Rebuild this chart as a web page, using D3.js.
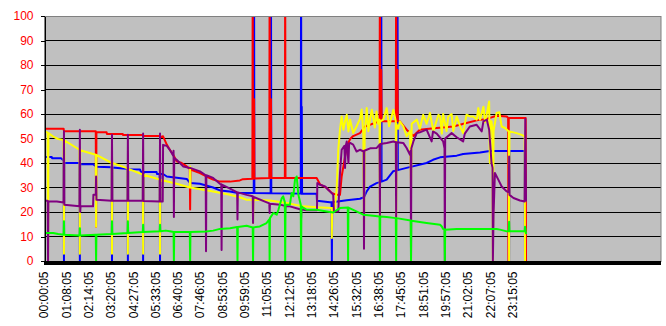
<!DOCTYPE html>
<html>
<head>
<meta charset="utf-8">
<script src="https://cdn.jsdelivr.net/npm/d3@7"></script>
<style>
  html, body { margin: 0; padding: 0; background: #fff; }
  svg { display: block; font-family: Arial, "Liberation Sans", sans-serif; }
</style>
</head>
<body>
<svg id="chart" width="666" height="326"></svg>
<script>
// category labels, one every 66 samples
const tickLabels = [
    '00:00:05', '01:08:05', '02:14:05', '03:20:05', '04:27:05', '05:33:05',
    '06:40:05', '07:46:05', '08:53:05', '09:59:05', '11:05:05', '12:12:05',
    '13:18:05', '14:26:05', '15:32:05', '16:38:05', '17:45:05', '18:51:05',
    '19:57:05', '21:02:05', '22:07:05', '23:15:05'
];

// [sample index, value]
const redSeries = [
    [0,54],[58,54],[59,53],[153,53],[154,14],[155,52.6],[185,52.6],[186,51.8],[233,51.8],[234,51.4],
    [292,51.4],[293,51],[342,51],[343,50.5],[352,50.9],[363,47.5],[372,45.4],[382,43.4],[392,40.7],
    [407,40],[422,38.6],[431,37.5],[432,21],[433,37.3],[461,35.9],[480,34.5],[500,33.2],[520,32.4],
    [550,32.4],[579,32.9],[588,33.4],[616,33.6],[617,120],[618,33.6],[620,33.6],[621,66],[622,33.7],[666,33.9],
    [667,120],[668,33.9],[670,33.9],[671,66],[672,33.9],[712,33.9],[713,120],[714,33.9],[806,33.9],[816,31.3],
    [836,29.8],[850,27.8],[865,27],[875,27],[880,34.5],[890,42.7],[895,46.8],[905,49.8],[914,51],
    [934,52.2],[949,54.9],[983,56.6],[992,57],[993,120],[994,57],[996,57],[997,78],[998,57],[1040,57],[1041,120],
    [1042,57],[1044,57],[1045,78],[1046,57],[1052,57],[1072,53.6],[1092,51],[1111,53.6],[1131,53.9],[1161,54.3],
    [1210,54.9],[1249,56.3],[1279,57.4],[1309,58],[1338,59.3],[1368,59],[1372,58.4],[1373,0],[1374,58.4],
    [1424,58.4],[1425,0]
];

const blueSeries = [
    [0,42.4],[23,42.4],[24,41.9],[51,41.9],[56,41.2],[58,41],[59,0],[60,40],[105,40],[106,0],[107,39.6],
    [146,39.5],[150,39],[156,38.5],[200,38.3],[201,0],[202,38.2],[234,37.8],[247,37.6],[248,0],[249,37.5],
    [284,37.3],[287,36.3],[292,36.3],[293,0],[294,36.3],[333,36.3],[334,35.5],[342,35.5],[343,0],[344,35.5],
    [352,35.5],[363,34.5],[422,33.5],[432,31.8],[461,31.5],[500,30],[520,28.8],[550,28.4],[570,27.8],
    [620,27.8],[621,120],[622,27.8],[670,27.7],[671,120],[672,27.7],[759,27.5],[760,120],[761,27.5],
    [762,63],[763,27.5],[806,27.5],[807,24.6],[845,24],[850,24],[851,0],[852,24],[895,24.8],[934,25.4],
    [946,26],[954,28.4],[964,30.4],[983,31.8],[996,32.3],[997,120],[998,32.4],[1013,33.2],[1032,36.6],
    [1044,37],[1045,120],[1046,37.1],[1072,38],[1131,40],[1150,41.3],[1171,42.3],[1220,43],[1239,43.7],
    [1289,44.3],[1318,44.9],[1374,44.9],[1375,0],[1376,44.9],[1421,44.9],[1422,0]
];

const yellowSeries = [
    [0,53],[11,52.4],[12,0],[13,52.2],[27,50.8],[42,49.8],[58,49.4],[59,3],[60,49.2],[105,45.4],[106,3],
    [107,45.2],[153,43.4],[154,14],[155,43.3],[200,40],[201,3],[202,40],[247,37.8],[248,3],[249,37.6],
    [292,35.3],[293,3],[294,35.2],[342,33.3],[343,3],[344,33.2],[392,31.5],[431,30],[432,38.6],[433,30],
    [441,29.8],[500,28.4],[550,27],[579,26],[599,25],[617,25],[618,15.5],[619,25],[668,24.7],[717,23.7],
    [766,22.3],[806,21.9],[850,21.6],[851,9.4],[852,21.6],[860,21.6],[865,29],[870,45.4],[875,53.6],
    [880,59],[885,53.6],[890,57],[895,59.7],[900,52.9],[905,57.7],[914,52.2],[924,54.9],[934,58],
    [939,61.8],[944,52],[946,12],[948,52],[954,62.4],[959,53],[964,58],[969,61.7],[978,54.5],[983,61],
    [988,56],[992,57.7],[993,12],[994,57],[1003,57.7],[1013,62.4],[1020,55],[1033,61.7],[1040,57],
    [1041,12],[1042,56],[1047,54],[1052,57],[1062,55],[1072,50.9],[1082,53],[1085,30],[1087,56],
    [1102,57.7],[1111,54],[1121,59.7],[1131,56],[1141,60.4],[1151,53],[1166,59.7],[1171,59],[1176,52],
    [1180,60],[1190,53],[1195,59],[1205,60],[1210,53],[1220,59],[1230,55],[1239,52.2],[1249,59.7],
    [1259,59],[1269,59],[1279,57.7],[1284,62.4],[1289,57.7],[1299,63],[1304,56.6],[1309,60],[1316,65.1],
    [1318,40],[1320,57],[1323,57],[1326,53],[1327,0],[1329,53],[1338,60.4],[1346,60.7],[1353,54.9],
    [1363,54.3],[1374,52.9],[1375,0],[1376,52.9],[1397,52.2],[1412,51.5],[1421,50.9],[1422,0]
];

const purpleSeries = [
    [3,24.6],[11,24.6],[12,0],[13,24.4],[38,24.3],[58,23.9],[59,53],[60,23],[105,22.3],[106,53.6],[107,20],
    [108,22.3],[145,22.3],[146,27],[153,27],[154,34.5],[155,25],[200,24.6],[201,51.5],[202,24.6],[247,24.6],
    [248,51.5],[249,24.6],[292,24.6],[293,52],[294,24.5],[342,24.3],[343,52],[344,24.3],[351,24.3],
    [352,47.4],[363,47],[372,45.4],[382,43],[383,45],[384,18],[385,42],[392,41.3],[412,38.6],[432,38],
    [461,36.6],[478,35],[479,4],[480,35],[500,33.9],[520,31.5],[524,31.3],[525,4.5],[526,31.2],[550,29.5],
    [571,28],[572,16.9],[573,28],[599,27],[617,26.4],[618,15.5],[619,26.2],[666,23.5],[667,19.6],[668,23.4],
    [698,23],[712,22.5],[713,20],[714,22.4],[727,22.3],[759,21],[760,17.6],[761,21],[777,20.7],[807,20.7],
    [808,31.8],[816,31.1],[831,30.4],[840,29.1],[850,27.8],[855,27],[857,20.2],[870,20.2],[875,35.9],
    [880,45.4],[888,47],[890,38],[892,47],[895,48.8],[900,40],[902,48],[905,48.2],[914,47.5],[924,44.7],
    [934,45.4],[945,44.7],[946,5],[947,45],[964,46],[983,46.1],[992,47.5],[993,18],[994,47.8],[1013,48.2],
    [1033,48.8],[1040,48.5],[1041,18],[1042,48.5],[1062,48.2],[1072,46.1],[1082,43.4],[1084,45],[1085,1],
    [1086,46],[1092,48.8],[1102,52.2],[1111,52.5],[1131,53.6],[1146,48.8],[1150,52.9],[1161,52],
    [1180,48.8],[1184,46],[1185,0],[1186,50],[1205,52.2],[1220,50.5],[1239,48.8],[1244,52],[1259,54.9],
    [1279,55.6],[1294,52.9],[1299,57],[1309,57.7],[1316,53.6],[1323,40],[1326,38],[1327,0],[1329,19],
    [1333,35.9],[1343,33.2],[1353,30.4],[1368,28.4],[1374,28],[1375,42.7],[1376,27],[1388,25.7],
    [1407,24.7],[1421,24.3],[1423,58],[1425,24.3]
];

const greenSeries = [
    [3,11.4],[27,11.4],[42,11],[58,10.7],[59,16.2],[60,10.7],[105,10.4],[106,13.4],[107,10.4],[153,10.7],
    [154,0],[155,10.7],[200,11],[201,16.2],[202,11],[247,11.4],[248,16.2],[249,11.4],[292,11.8],[293,14.8],
    [294,11.8],[342,12.1],[343,14.8],[344,12.1],[360,12.4],[372,12.1],[383,11.8],[384,0],[385,11.8],
    [431,11.8],[432,0],[433,11.8],[479,12],[500,12.4],[520,13.1],[550,13.4],[571,13.9],[572,0],[573,13.9],
    [599,14.4],[617,13.7],[618,0],[619,13.7],[638,14.1],[658,15.5],[666,17],[667,0],[668,17.5],[678,19.6],
    [688,18.9],[693,20.9],[703,25.7],[707,26.4],[712,24],[713,0],[714,23],[727,23],[732,27.8],[737,26.4],
    [742,33.2],[747,34.5],[752,27],[759,23],[760,0],[761,22.3],[766,21.8],[777,20.9],[806,20.9],[836,20.2],
    [855,19.8],[875,21.6],[898,21.8],[899,0],[900,21.8],[914,20.9],[944,18.9],[973,18.5],[992,18.2],
    [993,0],[994,18.2],[1013,18],[1040,17.5],[1041,0],[1042,17.5],[1084,16.5],[1085,0],[1086,16.4],
    [1131,15.5],[1171,14.8],[1176,14.1],[1180,13.1],[1184,13],[1185,0],[1186,12.8],[1220,13.1],[1338,13.1],
    [1348,12.8],[1368,12.1],[1374,12.1],[1375,16],[1376,12.1],[1421,12.1],[1422,14],[1425,11]
];

// draw order matters: later series sit on top
const seriesList = [
    { name: 'blue',   color: '#0000ff', values: blueSeries },
    { name: 'red',    color: '#ff0000', values: redSeries },
    { name: 'yellow', color: '#ffff00', values: yellowSeries },
    { name: 'purple', color: '#800080', values: purpleSeries },
    { name: 'green',  color: '#00ff00', values: greenSeries }
];

const sampleCount = 1824;
const tickStep = 66;
const plot = { left: 44, right: 661, top: 16, bottom: 261 };

const svg = d3.select('#chart');

const x = d3.scaleLinear().domain([0, sampleCount]).range([plot.left, plot.right]);
const y = d3.scaleLinear().domain([0, 100]).range([plot.bottom, plot.top]);

svg.append('clipPath')
    .attr('id', 'plotClip')
    .append('rect')
    .attr('x', plot.left)
    .attr('y', plot.top)
    .attr('width', plot.right - plot.left)
    .attr('height', plot.bottom - plot.top);

// plot background
svg.append('rect')
    .attr('x', plot.left)
    .attr('y', plot.top)
    .attr('width', plot.right - plot.left)
    .attr('height', plot.bottom - plot.top)
    .attr('fill', '#c0c0c0');

// gridlines
svg.append('g')
    .selectAll('line')
    .data(d3.range(10, 100, 10))
    .join('line')
    .attr('x1', plot.left)
    .attr('x2', plot.right)
    .attr('y1', d => y(d))
    .attr('y2', d => y(d))
    .attr('stroke', '#000')
    .attr('shape-rendering', 'crispEdges');

// series
const line = d3.line()
    .x(d => x(d[0]))
    .y(d => y(d[1]));

svg.append('g')
    .attr('clip-path', 'url(#plotClip)')
    .selectAll('path')
    .data(seriesList)
    .join('path')
    .attr('class', d => 'series ' + d.name)
    .attr('d', d => line(d.values))
    .attr('fill', 'none')
    .attr('stroke', d => d.color)
    .attr('stroke-width', 2)
    .attr('stroke-linejoin', 'round');

// plot border (top/right show, the axes cover the rest)
svg.append('rect')
    .attr('x', plot.left + 0.5)
    .attr('y', plot.top + 0.5)
    .attr('width', plot.right - plot.left - 0.5)
    .attr('height', plot.bottom - plot.top)
    .attr('fill', 'none')
    .attr('stroke', '#808080');

// value axis
const yAxis = svg.append('g')
    .attr('transform', `translate(${plot.left + 0.5},0)`)
    .call(d3.axisLeft(y).tickValues(d3.range(0, 101, 10)).tickSize(4).tickPadding(7).tickSizeOuter(0));

yAxis.selectAll('path, line')
    .attr('stroke', '#000')
    .attr('shape-rendering', 'crispEdges');
yAxis.selectAll('text')
    .attr('fill', '#ff0000')
    .attr('font-size', 12)
    .attr('font-family', 'Arial, "Liberation Sans", sans-serif');

// category axis: one tick per sample makes a solid band
svg.append('rect')
    .attr('x', plot.left)
    .attr('y', plot.bottom)
    .attr('width', plot.right - plot.left)
    .attr('height', 4)
    .attr('fill', '#000');

svg.append('g')
    .selectAll('text')
    .data(tickLabels)
    .join('text')
    .attr('transform', (d, i) => `translate(${x(i * tickStep)},271.5) rotate(-90)`)
    .attr('text-anchor', 'end')
    .attr('dy', '0.35em')
    .attr('font-size', 12)
    .attr('fill', '#000')
    .text(d => d);
</script>
</body>
</html>
